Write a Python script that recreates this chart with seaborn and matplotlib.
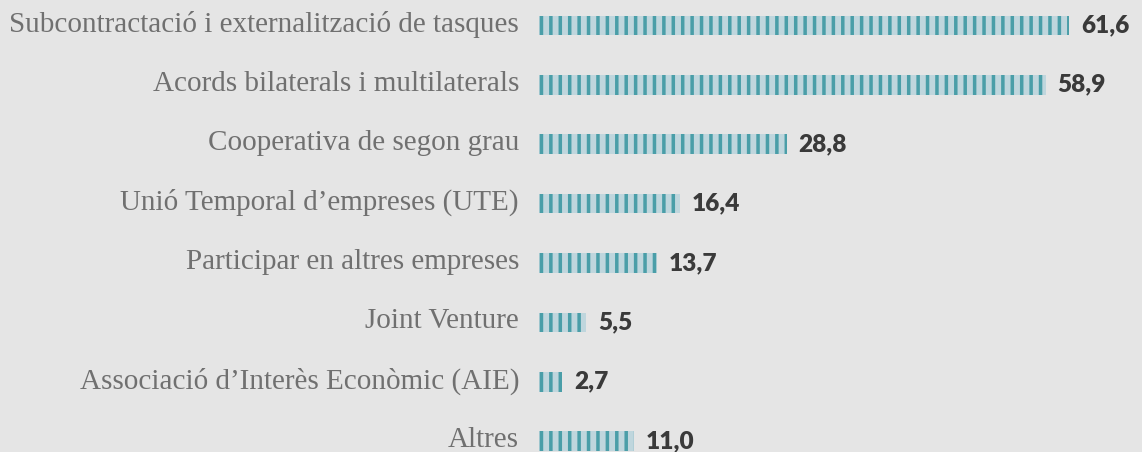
import matplotlib
matplotlib.use("Agg")
import matplotlib.pyplot as plt
import matplotlib.transforms as mtransforms
import seaborn as sns
import pandas as pd

categories = [
    "Subcontractació i externalització de tasques",
    "Acords bilaterals i multilaterals",
    "Cooperativa de segon grau",
    "Unió Temporal d\u2019empreses (UTE)",
    "Participar en altres empreses",
    "Joint Venture",
    "Associació d\u2019Interès Econòmic (AIE)",
    "Altres",
]
values = [61.6, 58.9, 28.8, 16.4, 13.7, 5.5, 2.7, 11.0]
value_labels = [f"{v:.1f}".replace(".", ",") for v in values]

DPI = 113
BG = "#e5e5e5"
LIGHT = "#bfd6dd"
TEAL = "#4a9ea8"

sns.set_theme(style="white")
plt.rcParams["hatch.linewidth"] = 3.5 * 72 / DPI

df = pd.DataFrame({"cat": categories, "val": values})

fig = plt.figure(figsize=(1142 / DPI, 452 / DPI), dpi=DPI, facecolor=BG)
ax = fig.add_axes([539 / 1142, 0, 1 - 539 / 1142, 1])
ax.set_facecolor(BG)

sns.barplot(data=df, x="val", y="cat", orient="h", color=LIGHT,
            edgecolor=TEAL, linewidth=0, hatch="||", width=0.33,
            saturation=1, ax=ax)

# map pixels: x 539 -> 0, 8.6 px per unit
ax.set_xlim(0, (1142 - 539) / 8.6)
ax.set_ylim(7.183, -0.426)

for bar in ax.patches:
    bar.set_edgecolor(TEAL)
    bar.set_linewidth(0)
    bar.set_facecolor(LIGHT)

texts = ax.bar_label(ax.containers[0], labels=value_labels,
                     padding=12 * 72 / DPI, fontsize=15.5, fontweight="heavy",
                     color="#3a3a3a", family="Lato")
shift_v = mtransforms.ScaledTranslation(0, 1 / DPI, fig.dpi_scale_trans)
for t in texts:
    t.set_transform(t.get_transform() + shift_v)

ax.set_xlabel("")
ax.set_ylabel("")
ax.set_xticks([])
ax.tick_params(axis="y", length=0, pad=20 * 72 / DPI)
shift = mtransforms.ScaledTranslation(0, 4 / DPI, fig.dpi_scale_trans)
for lab in ax.get_yticklabels():
    lab.set_family("Liberation Serif")
    lab.set_fontsize(18.6)
    lab.set_color("#707070")
    lab.set_transform(lab.get_transform() + shift)
for s in ax.spines.values():
    s.set_visible(False)

fig.savefig("out.png", dpi=DPI, facecolor=BG)
